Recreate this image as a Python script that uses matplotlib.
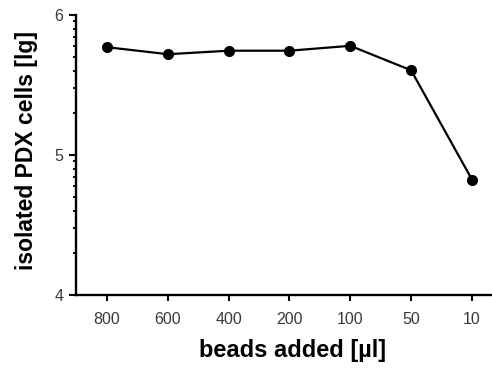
import numpy as np
import matplotlib
matplotlib.use("Agg")
import matplotlib.pyplot as plt

categories = ["800", "600", "400", "200", "100", "50", "10"]
lg_cells = [5.77, 5.72, 5.745, 5.745, 5.78, 5.605, 4.825]
y_ticks = [4, 5, 6]

plt.rcParams['font.family'] = ['Liberation Sans', 'DejaVu Sans']

fig = plt.figure(figsize=(4.92, 3.69), dpi=100)
ax = fig.add_axes([76/492, 1-295/369, 1-76/492, (295-15)/369])

x = np.arange(len(categories))
ax.plot(x, lg_cells, color='black', lw=1.6, marker='o', ms=7, clip_on=False, zorder=3)

ax.set_xlim(-0.51, 6.33)
ax.set_ylim(4, 6)
ax.set_xticks(x)
ax.set_xticklabels(categories)
ax.set_yticks(y_ticks)
ax.set_yticklabels([str(t) for t in y_ticks])
minor = [d + np.log10(k) for d in (4, 5) for k in range(2, 10)]
ax.set_yticks(minor, minor=True)

for s in ['top', 'right']:
    ax.spines[s].set_visible(False)
for s in ['left', 'bottom']:
    ax.spines[s].set_linewidth(1.7)

ax.tick_params(axis='both', which='major', direction='out', length=4, width=1.5,
               labelsize=11.5, labelcolor='#3a3a3a', pad=8)
ax.tick_params(axis='y', which='minor', direction='out', length=2.5, width=1.3)
ax.tick_params(axis='y', which='major', length=5, pad=4)

ax.set_xlabel("beads added [µl]", fontsize=17, fontweight='bold')
ax.set_ylabel("isolated PDX cells [lg]", fontsize=16.5, fontweight='bold')
ax.xaxis.set_label_coords((293-76)/(492-76), (295-339)/(295-15))
ax.yaxis.set_label_coords((38-76)/(492-76), (295-151)/(295-15))

fig.savefig("out.png", dpi=100)
